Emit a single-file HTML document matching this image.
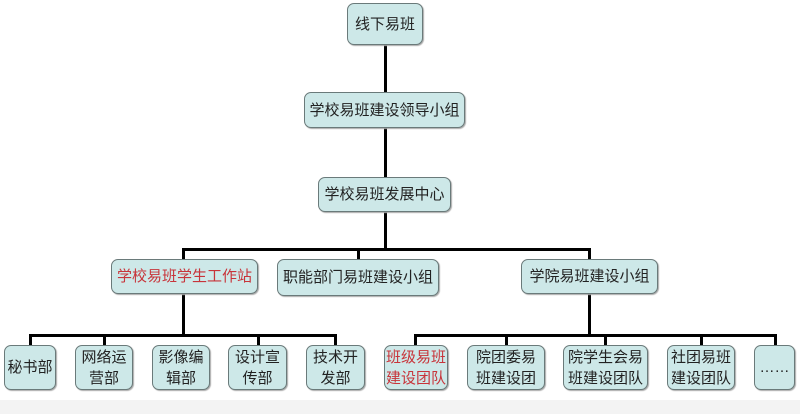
<!DOCTYPE html>
<html><head><meta charset="utf-8"><style>
body{margin:0;width:800px;height:414px;background:#fff;position:relative;overflow:hidden;font-family:"Liberation Sans","Noto Sans CJK SC",sans-serif;}
.b{position:absolute;box-sizing:border-box;background:#cde8e8;border:1.5px solid #6a7a7a;border-radius:7px;display:flex;align-items:center;justify-content:center;text-align:center;font-size:15px;color:#222;line-height:21px;box-shadow:1px 1px 1px #aaa;}
.r{color:#c8343a;}
.l{position:absolute;background:#000;}
</style></head><body>
<div style="position:absolute;left:0;top:400px;width:800px;height:14px;background:#f3f3f3"></div>
<!-- lines -->
<div class="l" style="left:384px;top:44px;width:3px;height:205px"></div>
<div class="l" style="left:182px;top:248px;width:408px;height:3px"></div>
<div class="l" style="left:182px;top:248px;width:3px;height:12px"></div>
<div class="l" style="left:357px;top:248px;width:3px;height:12px"></div>
<div class="l" style="left:588px;top:248px;width:3px;height:12px"></div>
<div class="l" style="left:182px;top:294px;width:3px;height:42px"></div>
<div class="l" style="left:29px;top:334px;width:308px;height:3px"></div>
<div class="l" style="left:29px;top:334px;width:3px;height:12px"></div>
<div class="l" style="left:103px;top:334px;width:3px;height:12px"></div>
<div class="l" style="left:257px;top:334px;width:3px;height:12px"></div>
<div class="l" style="left:334px;top:334px;width:3px;height:12px"></div>
<div class="l" style="left:588px;top:294px;width:3px;height:42px"></div>
<div class="l" style="left:414px;top:334px;width:363px;height:3px"></div>
<div class="l" style="left:414px;top:334px;width:3px;height:12px"></div>
<div class="l" style="left:505px;top:334px;width:3px;height:12px"></div>
<div class="l" style="left:604px;top:334px;width:3px;height:12px"></div>
<div class="l" style="left:700px;top:334px;width:3px;height:12px"></div>
<div class="l" style="left:774px;top:334px;width:3px;height:12px"></div>
<!-- boxes -->
<div class="b" style="left:347px;top:3px;width:76px;height:42px">线下易班</div>
<div class="b" style="left:304px;top:92px;width:161px;height:36px">学校易班建设领导小组</div>
<div class="b" style="left:318px;top:177px;width:133px;height:35px">学校易班发展中心</div>
<div class="b r" style="left:111px;top:259px;width:147px;height:35px">学校易班学生工作站</div>
<div class="b" style="left:277px;top:259px;width:162px;height:37px">职能部门易班建设小组</div>
<div class="b" style="left:521px;top:259px;width:137px;height:35px">学院易班建设小组</div>
<div class="b" style="left:4px;top:345px;width:52px;height:45px">秘书部</div>
<div class="b" style="left:75px;top:345px;width:58px;height:45px">网络运<br>营部</div>
<div class="b" style="left:152px;top:345px;width:58px;height:45px">影像编<br>辑部</div>
<div class="b" style="left:228px;top:345px;width:59px;height:45px">设计宣<br>传部</div>
<div class="b" style="left:306px;top:345px;width:59px;height:45px">技术开<br>发部</div>
<div class="b r" style="left:384px;top:345px;width:64px;height:45px">班级易班<br>建设团队</div>
<div class="b" style="left:467px;top:345px;width:78px;height:45px">院团委易<br>班建设团</div>
<div class="b" style="left:563px;top:345px;width:85px;height:45px">院学生会易<br>班建设团队</div>
<div class="b" style="left:667px;top:345px;width:68px;height:45px">社团易班<br>建设团队</div>
<div class="b" style="left:754px;top:345px;width:41px;height:45px">……</div>
</body></html>
